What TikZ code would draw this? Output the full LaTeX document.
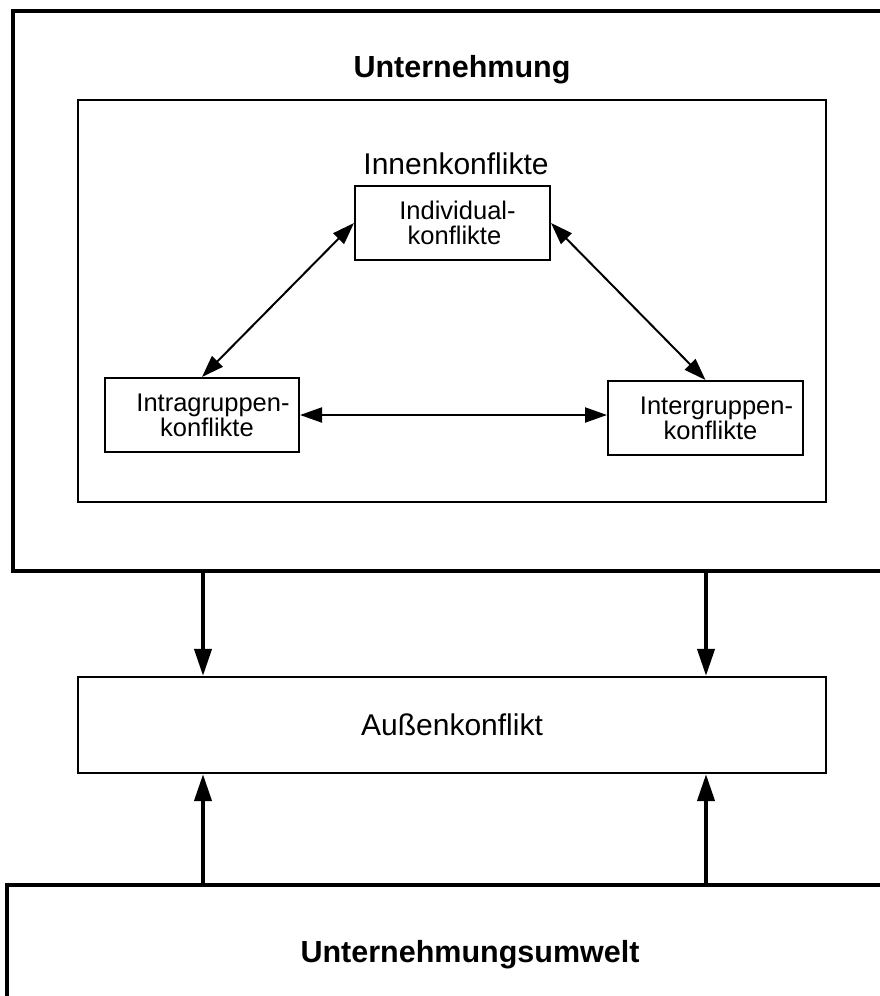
\documentclass[tikz,border=0pt]{standalone}
\usepackage{fontspec}
\setmainfont{Liberation Sans}
\usetikzlibrary{arrows.meta}

\begin{document}
\begin{tikzpicture}[x=1pt,y=-1pt,
  frame/.style={line width=4pt, line join=miter},
  panel/.style={draw, line width=2.2pt, inner sep=0pt},
  conf/.style={draw, line width=2pt, inner sep=0pt, minimum width=195pt,
    minimum height=74pt, align=center, font=\fontsize{25.5}{25}\selectfont},
  bigtext/.style={font=\fontsize{30}{36}\selectfont, inner sep=0pt},
  titletext/.style={font=\fontsize{30.5}{36}\bfseries\selectfont, inner sep=0pt},
  twoway/.style={line width=2pt,
    {Triangle[length=22pt,width=15pt]}-{Triangle[length=22pt,width=15pt]}},
  flow/.style={line width=4pt, -{Triangle[length=27pt,width=17pt]}}]

\useasboundingbox (0,0) rectangle (880,996);

% enterprise frame, open to the right
\draw[frame] (880,11) -- (13,11) -- (13,571) -- (880,571);
\node[titletext, anchor=base] (title) at (462,77) {Unternehmung};

% inner conflicts panel
\node[panel, minimum width=748pt, minimum height=402pt] (inner) at (452,301) {};
\node[bigtext, anchor=base] (innen) at (456,174) {Innenkonflikte};

\node[conf] (ind)   at (452.5,223)
  {\hspace*{10pt}Individual-\\\hspace*{4pt}konflikte};
\node[conf, minimum width=194pt] (intra) at (202,415)
  {\hspace*{22pt}Intragruppen-\\\hspace*{10pt}konflikte};
\node[conf] (inter) at (705.5,418)
  {\hspace*{22pt}Intergruppen-\\\hspace*{10pt}konflikte};

\draw[twoway] (ind.west) -- (intra.north);
\draw[twoway] (ind.east) -- (inter.north);
\draw[twoway] (intra.east) -- (intra.east -| inter.west);

% external conflict
\node[panel, minimum width=748pt, minimum height=96pt, bigtext] (aussen) at (452,725) {Außenkonflikt};

% environment frame, open to the right and bottom
\draw[frame] (880,885) -- (7,885) -- (7,996);
\node[titletext, anchor=base] (umwelt) at (470,962) {Unternehmungsumwelt};

% connections to the external conflict
\coordinate (u1) at (203,571);
\coordinate (u2) at (706,571);
\coordinate (e1) at (203,885);
\coordinate (e2) at (706,885);
\draw[flow] (u1) -- (u1 |- aussen.north);
\draw[flow] (u2) -- (u2 |- aussen.north);
\draw[flow] (e1) -- (e1 |- aussen.south);
\draw[flow] (e2) -- (e2 |- aussen.south);
\end{tikzpicture}
\end{document}
